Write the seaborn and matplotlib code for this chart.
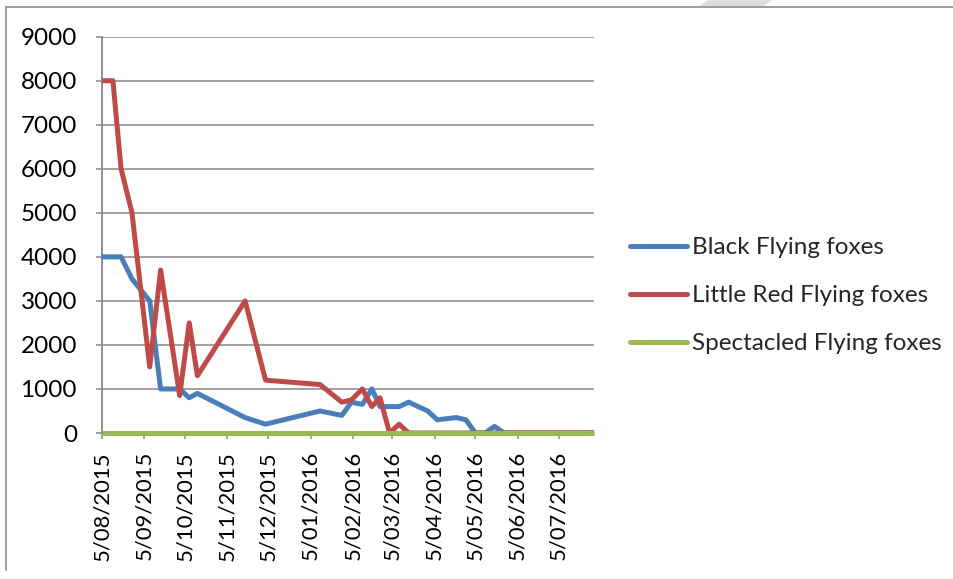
import matplotlib
matplotlib.use("Agg")
import matplotlib.pyplot as plt
import matplotlib.dates as mdates
from matplotlib.patches import Polygon
from matplotlib.lines import Line2D
import seaborn as sns
import pandas as pd

# Survey dates and counts per species
survey_dates = [
    "2015-08-05", "2015-08-13", "2015-08-19", "2015-08-27", "2015-09-09",
    "2015-09-17", "2015-10-01", "2015-10-08", "2015-10-14", "2015-11-18",
    "2015-12-03", "2016-01-12", "2016-01-28", "2016-02-04", "2016-02-12",
    "2016-02-19", "2016-02-25", "2016-03-03", "2016-03-10", "2016-03-17",
    "2016-03-31", "2016-04-07", "2016-04-21", "2016-04-28", "2016-05-05",
    "2016-05-12", "2016-05-19", "2016-05-26", "2016-07-31",
]
black_ff = [4000, 4000, 4000, 3500, 3000, 1000, 1000, 800, 900, 350,
            200, 500, 400, 700, 650, 1000, 600, 600, 600, 700,
            500, 300, 350, 300, 0, 0, 150, 0, 0]
little_red_ff = [8000, 8000, 6000, 5000, 1500, 3700, 850, 2500, 1300, 3000,
                 1200, 1100, 700, 750, 1000, 600, 800, 0, 200, 0,
                 0, 0, 0, 0, 0, 0, 0, 0, 0]
spectacled_ff = [0] * len(survey_dates)

series_names = ["Black Flying foxes", "Little Red Flying foxes", "Spectacled Flying foxes"]
series_colors = ["#4a7ebb", "#be4b48", "#98b954"]

tick_dates = ["2015-08-05", "2015-09-05", "2015-10-05", "2015-11-05", "2015-12-05",
              "2016-01-05", "2016-02-05", "2016-03-05", "2016-04-05", "2016-05-05",
              "2016-06-05", "2016-07-05"]
y_ticks = [0, 1000, 2000, 3000, 4000, 5000, 6000, 7000, 8000, 9000]

dates = pd.to_datetime(survey_dates)
df = pd.concat([
    pd.DataFrame({"date": dates, "count": vals, "species": name})
    for name, vals in zip(series_names, [black_ff, little_red_ff, spectacled_ff])
], ignore_index=True)

sns.set_theme(style="white")
plt.rcParams["font.family"] = ["Lato", "DejaVu Sans"]

W, H = 954, 579
LW = 3.6
FS = 17.5
fig = plt.figure(figsize=(W / 100, H / 100), dpi=100)
ax = fig.add_axes([102 / W, 1 - 433 / H, (594 - 102) / W, (433 - 36.7) / H])

palette = dict(zip(series_names, series_colors))
sns.lineplot(data=df, x="date", y="count", hue="species", hue_order=series_names,
             palette=palette, linewidth=LW, ax=ax, legend=False, zorder=3)
for ln in ax.get_lines():
    ln.set_solid_joinstyle("round")
    ln.set_solid_capstyle("butt")
    ln.set_clip_on(False)

grid_c = "#868686"
ax.set_ylim(0, 9000)
ax.set_xlim(pd.Timestamp("2015-08-05"), pd.Timestamp("2016-07-31"))
ax.set_yticks(y_ticks)
ax.set_xticks(pd.to_datetime(tick_dates))
ax.xaxis.set_major_formatter(
    matplotlib.ticker.FuncFormatter(
        lambda v, p: (lambda d: f"{d.day}/{d.month:02d}/{d.year}")(mdates.num2date(v))))
ax.yaxis.grid(True, color=grid_c, linewidth=1.1, zorder=0)
ax.xaxis.grid(False)
for s in ["top", "right", "bottom"]:
    ax.spines[s].set_visible(False)
ax.spines["left"].set_color(grid_c)
ax.spines["left"].set_linewidth(1.3)
ax.tick_params(axis="y", which="major", left=True, length=4, width=1.1, color=grid_c,
               pad=14, labelsize=FS, labelcolor="black")
ax.tick_params(axis="x", which="major", bottom=True, length=4, width=1.1, color=grid_c,
               pad=9, labelsize=15.8, labelcolor="black", labelrotation=90)
ax.set_xlabel("")
ax.set_ylabel("")
ax.set_facecolor("white")

# Legend on the right of the plot
handles = [Line2D([0], [0], color=c, linewidth=LW, solid_capstyle="round") for c in series_colors]
fig.legend(handles, series_names, loc="upper left", bbox_to_anchor=(630 / W, 1 - 237 / H),
           frameon=False, fontsize=FS, handlelength=2.35, handletextpad=0.2,
           labelspacing=1.12, borderpad=0, borderaxespad=0)

# Outer frame lines and page shading at the top
fig.add_artist(Line2D([6 / W, 6 / W], [1 - 570 / H, 1 - 7 / H], color="#8c8c8c", linewidth=1.2,
                      transform=fig.transFigure))
fig.add_artist(Line2D([6 / W, 1], [1 - 7 / H, 1 - 7 / H], color="#8c8c8c", linewidth=1.2,
                      transform=fig.transFigure))
fig.add_artist(Polygon([[708 / W, 1], [772 / W, 1], [763 / W, 1 - 6.5 / H], [699 / W, 1 - 6.5 / H]],
                       closed=True, facecolor="#dcdcdc", edgecolor="none", transform=fig.transFigure))

fig.savefig("out.png", dpi=100)
